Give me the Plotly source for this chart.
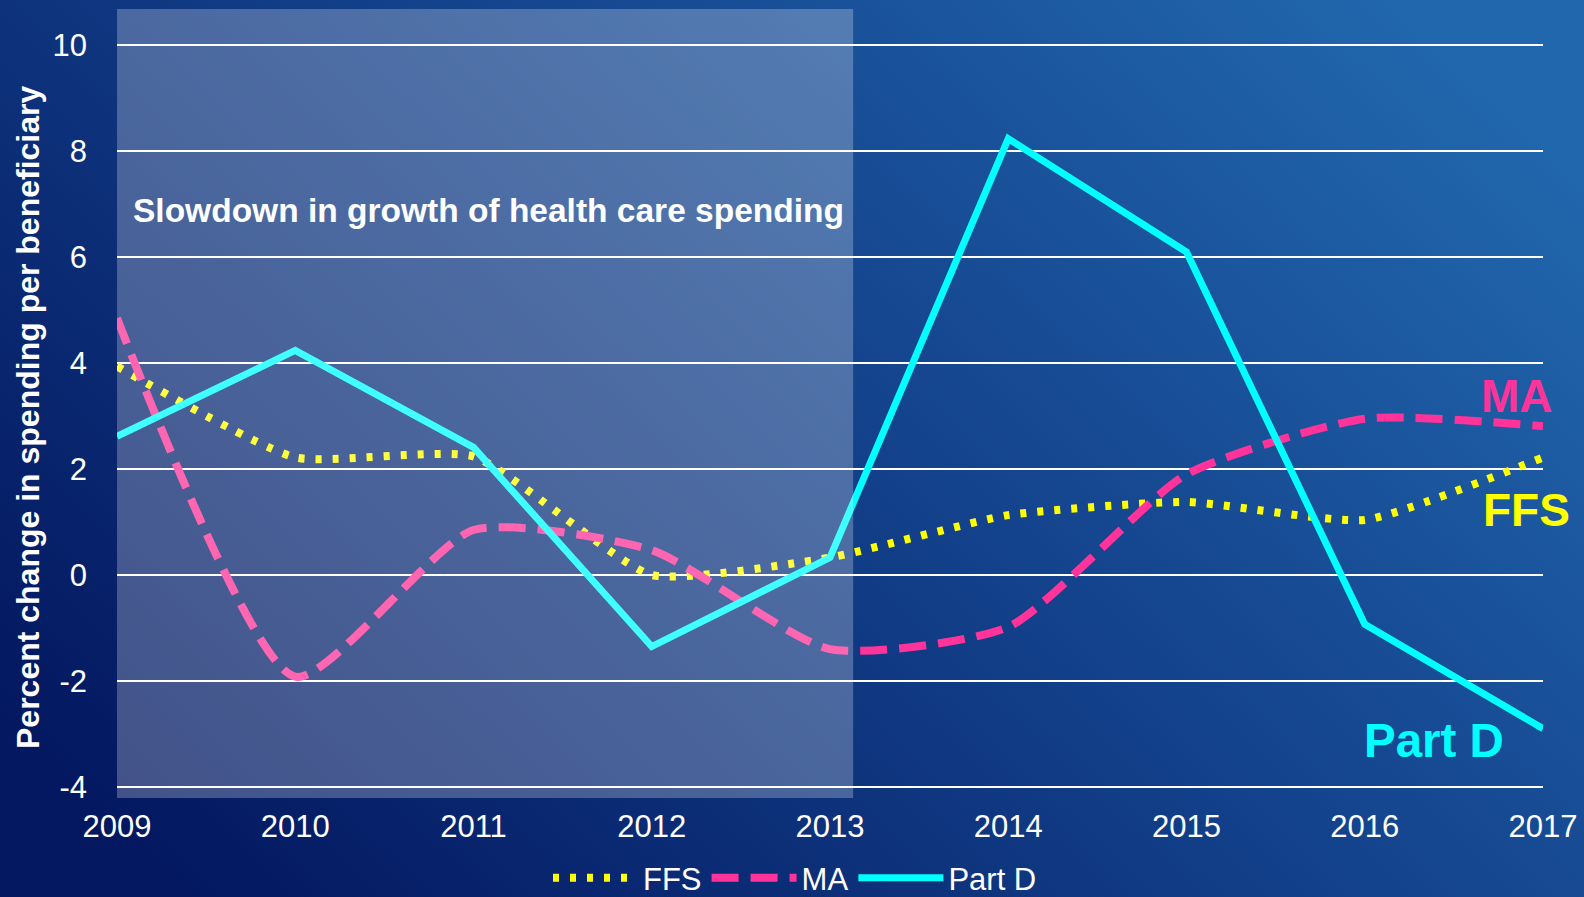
import base64
import plotly.graph_objects as go

years = [2009, 2010, 2011, 2012, 2013, 2014, 2015, 2016, 2017]
ffs = [3.94, 2.22, 2.24, 0.0, 0.33, 1.13, 1.38, 1.04, 2.22]
ma = [4.85, -1.92, 0.85, 0.47, -1.40, -0.98, 1.90, 2.95, 2.81]
part_d = [2.62, 4.24, 2.41, -1.35, 0.33, 8.24, 6.10, -0.93, -2.90]
y_ticks = [-4, -2, 0, 2, 4, 6, 8, 10]
y_tick_text = ["-4", "-2", "0", "2", "4", "6", "8", "10"]
x_ticks = years
slowdown_start, slowdown_end = 2009, 2013.13

YELLOW = "#FFFF00"
PINK = "#FF3399"
CYAN = "#00FFFF"
FONT = "Liberation Sans, Arial, sans-serif"

W, H = 1584, 897
ML, MR, MT, MB = 117, 41, 9, 99
PW, PH = W - ML - MR, H - MT - MB


def px_x(p):
    return (p - ML) / PW


def px_y(p):
    return (H - MB - p) / PH


svg = (
    '<svg xmlns="http://www.w3.org/2000/svg" width="1584" height="897" preserveAspectRatio="none">'
    '<defs><linearGradient id="g" x1="0" y1="0.8" x2="1" y2="0.2">'
    '<stop offset="0" stop-color="#031860"/>'
    '<stop offset="0.5" stop-color="#123e88"/>'
    '<stop offset="1" stop-color="#2167ad"/>'
    '</linearGradient></defs>'
    '<rect width="1584" height="897" fill="url(#g)"/></svg>'
)
bg_uri = "data:image/svg+xml;base64," + base64.b64encode(svg.encode()).decode()

fig = go.Figure()
fig.add_trace(go.Scatter(
    x=years, y=ffs, name="FFS", mode="lines",
    line=dict(color=YELLOW, width=8, dash="6px,11px", shape="spline", smoothing=0.5),
))
fig.add_trace(go.Scatter(
    x=years, y=ma, name="MA", mode="lines",
    line=dict(color=PINK, width=8, dash="27px,12px", shape="spline", smoothing=0.6),
))
fig.add_trace(go.Scatter(
    x=years, y=part_d, name="Part D", mode="lines",
    line=dict(color=CYAN, width=7),
))

fig.add_shape(
    type="rect", xref="x", yref="paper",
    x0=slowdown_start, x1=slowdown_end, y0=0, y1=1,
    fillcolor="rgba(255,255,255,0.25)", line=dict(width=0), layer="above",
)

fig.add_annotation(
    x=2009.08, y=6.89, xref="x", yref="y", xanchor="left", yanchor="middle",
    text="<b>Slowdown in growth of health care spending</b>", showarrow=False,
    font=dict(family=FONT, size=33.5, color="white"),
)
fig.add_annotation(
    x=px_x(1517), y=px_y(396), xref="paper", yref="paper", xanchor="center", yanchor="middle",
    text="<b>MA</b>", showarrow=False, font=dict(family=FONT, size=46, color=PINK),
)
fig.add_annotation(
    x=px_x(1526), y=px_y(510), xref="paper", yref="paper", xanchor="center", yanchor="middle",
    text="<b>FFS</b>", showarrow=False, font=dict(family=FONT, size=46, color=YELLOW),
)
fig.add_annotation(
    x=px_x(1434), y=px_y(740), xref="paper", yref="paper", xanchor="center", yanchor="middle",
    text="<b>Part D</b>", showarrow=False, font=dict(family=FONT, size=47.5, color=CYAN),
)
fig.add_annotation(
    x=px_x(28), y=px_y(417), xref="paper", yref="paper",
    xanchor="center", yanchor="middle", textangle=-90,
    text="<b>Percent change in spending per beneficiary</b>", showarrow=False,
    font=dict(family=FONT, size=32, color="white"),
)

fig.add_layout_image(dict(
    source=bg_uri, xref="paper", yref="paper",
    x=-ML / PW, y=1 + MT / PH, sizex=W / PW, sizey=H / PH,
    xanchor="left", yanchor="top", sizing="stretch", layer="below",
))

fig.update_layout(
    width=W, height=H,
    margin=dict(l=ML, r=MR, t=MT, b=MB, autoexpand=False),
    paper_bgcolor="#0e3478", plot_bgcolor="rgba(0,0,0,0)",
    font=dict(family=FONT, color="white"),
    showlegend=True,
    legend=dict(
        orientation="h", xref="paper", x=px_x(795), xanchor="center",
        yref="container", y=(H - 878) / H, yanchor="middle",
        font=dict(family=FONT, size=31, color="white"),
        bgcolor="rgba(0,0,0,0)", tracegroupgap=0, itemwidth=85,
    ),
    xaxis=dict(
        range=[2009, 2017], tickvals=x_ticks, ticktext=[str(v) for v in x_ticks],
        showgrid=False, zeroline=False, showline=False, ticks="",
        tickfont=dict(family=FONT, size=31, color="white"), ticklabelstandoff=7,
        fixedrange=True,
    ),
    yaxis=dict(
        range=[-4.21, 10.687], tickvals=y_ticks, ticktext=y_tick_text,
        showgrid=True, gridcolor="white", gridwidth=2,
        zeroline=False, showline=False, ticks="",
        tickfont=dict(family=FONT, size=31, color="white"), ticklabelstandoff=29,
        fixedrange=True,
    ),
)

fig.write_html(
    "out.html",
    config={"displayModeBar": False},
    post_script=(
        "document.body.style.margin='0px';"
        "document.body.style.overflow='hidden';"
        "document.documentElement.style.overflow='hidden';"
    ),
)
